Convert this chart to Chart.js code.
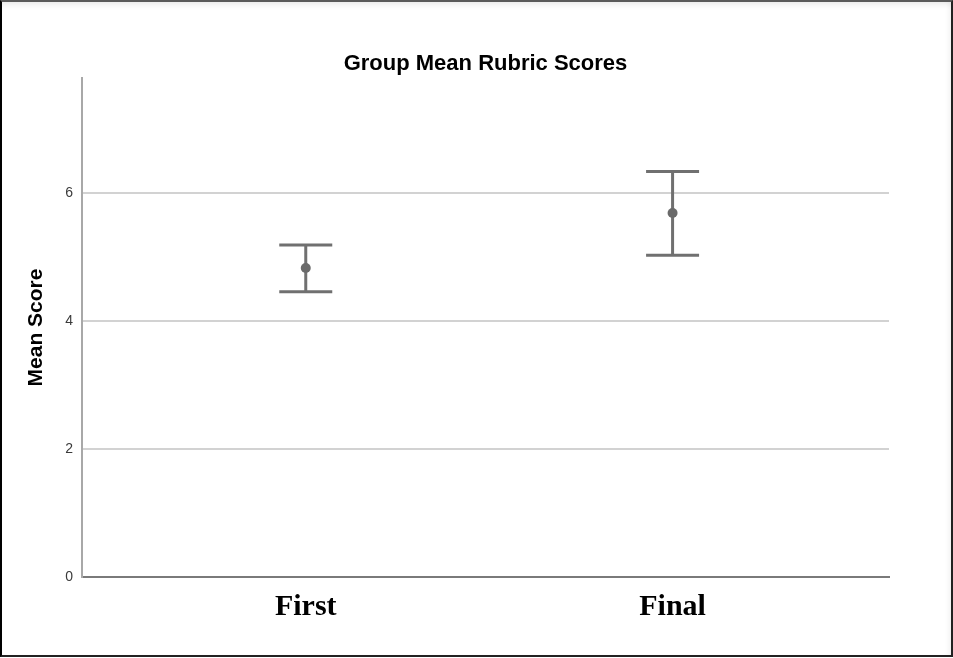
<!DOCTYPE html>
<html>
<head>
<meta charset="utf-8">
<script src="https://cdn.jsdelivr.net/npm/chart.js@4/dist/chart.umd.min.js"></script>
<style>
  html, body { margin: 0; padding: 0; background: #ffffff; }
  #wrap { position: relative; width: 953px; height: 658px; overflow: hidden; background: #ffffff; }
  #chart { position: absolute; left: 0; top: 0; }
  #frame {
    position: absolute; left: 0; top: 0; width: 953px; height: 657px;
    box-sizing: border-box; pointer-events: none;
    border-left: 2px solid #000000; border-top: 2px solid #5a5a5a;
    border-right: 2px solid #222222; border-bottom: 2px solid #222222;
    box-shadow: inset 0 7px 7px -5px rgba(0,0,0,0.10), inset -5px 0 6px -4px rgba(0,0,0,0.08);
  }
</style>
</head>
<body>
<div id="wrap">
  <canvas id="chart" width="953" height="658"></canvas>
  <div id="frame"></div>
</div>
<script>
// Group means with 95% confidence interval bounds
const categories = ['First', 'Final'];
const meanScores = [4.83, 5.69];
const lowerBounds = [4.46, 5.03];
const upperBounds = [5.19, 6.34];
const yTicks = [0, 2, 4, 6];

const points = categories.map((c, i) => ({ x: i, y: meanScores[i] }));

// Draws the vertical interval line and end caps for each group
const errorBars = {
  id: 'errorBars',
  beforeDatasetsDraw(chart) {
    const { ctx, scales: { x, y } } = chart;
    const capHalf = 26.5;
    ctx.save();
    ctx.strokeStyle = '#707070';
    ctx.lineWidth = 3;
    ctx.lineCap = 'butt';
    categories.forEach((c, i) => {
      const px = x.getPixelForValue(i);
      const yLo = y.getPixelForValue(lowerBounds[i]);
      const yHi = y.getPixelForValue(upperBounds[i]);
      ctx.beginPath();
      ctx.moveTo(px, yLo);
      ctx.lineTo(px, yHi);
      ctx.moveTo(px - capHalf, yHi);
      ctx.lineTo(px + capHalf, yHi);
      ctx.moveTo(px - capHalf, yLo);
      ctx.lineTo(px + capHalf, yLo);
      ctx.stroke();
    });
    ctx.restore();
  }
};

new Chart(document.getElementById('chart'), {
  type: 'scatter',
  data: {
    datasets: [{
      data: points,
      pointRadius: 5,
      pointHoverRadius: 5,
      pointBackgroundColor: '#6a6a6a',
      pointBorderColor: '#6a6a6a',
      pointBorderWidth: 0
    }]
  },
  options: {
    responsive: false,
    animation: false,
    events: [],
    layout: { padding: { left: 0, right: 64, top: 0, bottom: 0 } },
    plugins: {
      legend: { display: false },
      tooltip: { enabled: false },
      title: {
        display: true,
        fullSize: false,
        text: 'Group Mean Rubric Scores',
        color: '#000000',
        font: { family: 'Liberation Sans, Arial, sans-serif', size: 22, weight: 'bold' },
        padding: { top: 51, bottom: 0.6 }
      }
    },
    scales: {
      x: {
        type: 'linear',
        min: -0.61,
        max: 1.59,
        afterBuildTicks(scale) { scale.ticks = categories.map((c, i) => ({ value: i })); },
        afterFit(scale) { scale.height = 81; },
        ticks: {
          callback: (v) => categories[v],
          color: '#000000',
          font: { family: 'Liberation Serif, Times New Roman, serif', size: 30, weight: 'bold' },
          padding: 12,
          maxRotation: 0
        },
        grid: { display: false, drawTicks: false },
        border: { display: true, color: '#7a7a7a', width: 2 }
      },
      y: {
        min: 0,
        max: 7.8,
        afterBuildTicks(scale) { scale.ticks = yTicks.map(v => ({ value: v })); },
        afterFit(scale) { scale.width = 82; },
        ticks: {
          color: '#3a3a3a',
          font: { family: 'Liberation Sans, Arial, sans-serif', size: 14 },
          padding: 9
        },
        grid: { color: '#d2d2d2', lineWidth: 2, drawTicks: false },
        border: { display: true, color: '#a8a8a8', width: 2 },
        title: {
          display: true,
          text: 'Mean Score',
          color: '#000000',
          font: { family: 'Liberation Sans, Arial, sans-serif', size: 21, weight: 'bold' },
          padding: { top: 24, bottom: 0 }
        }
      }
    }
  },
  plugins: [errorBars]
});
</script>
</body>
</html>
